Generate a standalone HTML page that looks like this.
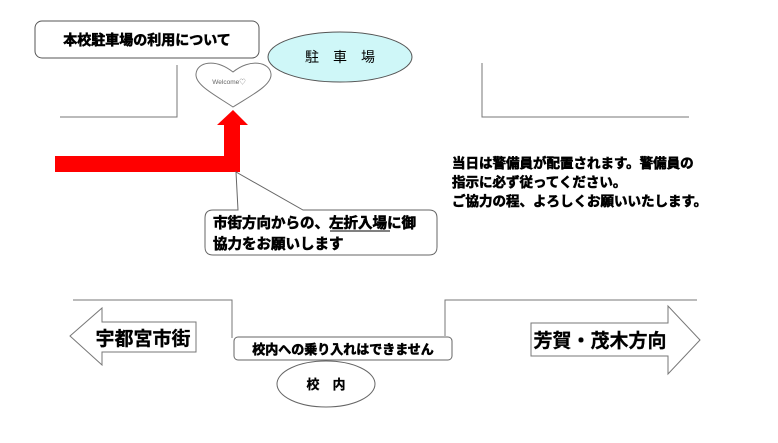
<!DOCTYPE html>
<html><head><meta charset="utf-8"><style>
html,body{margin:0;padding:0;background:#fff;}
svg text{font-family:"Liberation Sans","Noto Sans CJK JP",sans-serif;font-weight:bold;}
.b{stroke:#000;stroke-width:0.6;}
</style></head><body>
<svg width="778" height="438" xmlns="http://www.w3.org/2000/svg">
<rect width="778" height="438" fill="#fff"/>
<rect x="35" y="21" width="224" height="37" rx="7" fill="#fff" stroke="#555" stroke-width="1"/>
<text class="b" x="147" y="45" font-size="14" text-anchor="middle">本校駐車場の利用について</text>
<ellipse cx="340" cy="57" rx="72" ry="25" fill="#cff7f8" stroke="#555"/>
<text x="340" y="62" font-size="14" text-anchor="middle" style="font-weight:normal">駐　車　場</text>
<path d="M233,107 C215,95 195,85 196,74 C197,62 215,58 233,72 C250,58 270,62 271,74 C272,85 252,95 233,107 Z" fill="#fff" stroke="#777"/>
<text x="229" y="84" font-size="6.5" text-anchor="middle" fill="#666" style="font-weight:normal">Welcome♡</text>
<polyline points="60,117 177,117 177,65" fill="none" stroke="#777"/>
<polyline points="482,63 482,117 689,117" fill="none" stroke="#777"/>
<path d="M55,156 L224,156 L224,125 L217,125 L233,110 L248,125 L240,125 L240,172 L55,172 Z" fill="#f00"/>
<path d="M205,218 Q205,210 213,210 L238,210 L236,172 L303,210 L429,210 Q437,210 437,218 L437,247 Q437,255 429,255 L213,255 Q205,255 205,247 Z" fill="#fff" stroke="#666"/>
<text class="b" x="213" y="228" font-size="14.5">市街方向からの、左折入場に御</text>
<text class="b" x="213" y="249" font-size="14.5">協力をお願いします</text>
<line x1="330" y1="231" x2="390" y2="231" stroke="#000" stroke-width="1"/>
<text class="b" x="452" y="168" font-size="13.5">当日は警備員が配置されます。警備員の</text>
<text class="b" x="452" y="187" font-size="13.5">指示に必ず従ってください。</text>
<text class="b" x="452" y="206" font-size="13.5">ご協力の程、よろしくお願いいたします。</text>
<polyline points="73,300 232,300 232,338" fill="none" stroke="#777"/>
<polyline points="445,336 445,300 697,300" fill="none" stroke="#777"/>
<path d="M70,336 L102,308 L102,322 L196,322 L196,352 L102,352 L102,365 Z" fill="#fff" stroke="#777"/>
<text x="143" y="345" font-size="19" text-anchor="middle" stroke="#000" stroke-width="0.3">宇都宮市街</text>
<path d="M531,323 L668,323 L668,306 L700,340 L668,374 L668,356 L531,356 Z" fill="#fff" stroke="#777"/>
<text x="600" y="347" font-size="19" text-anchor="middle" stroke="#000" stroke-width="0.3">芳賀・茂木方向</text>
<rect x="234" y="337" width="218" height="23" rx="4" fill="#fff" stroke="#666"/>
<text class="b" x="343" y="354" font-size="13" text-anchor="middle">校内への乗り入れはできません</text>
<ellipse cx="326" cy="384" rx="49" ry="23" fill="#fff" stroke="#666"/>
<text x="326" y="389" font-size="13" text-anchor="middle" stroke="#000" stroke-width="0.3">校　内</text>
</svg>
</body></html>
